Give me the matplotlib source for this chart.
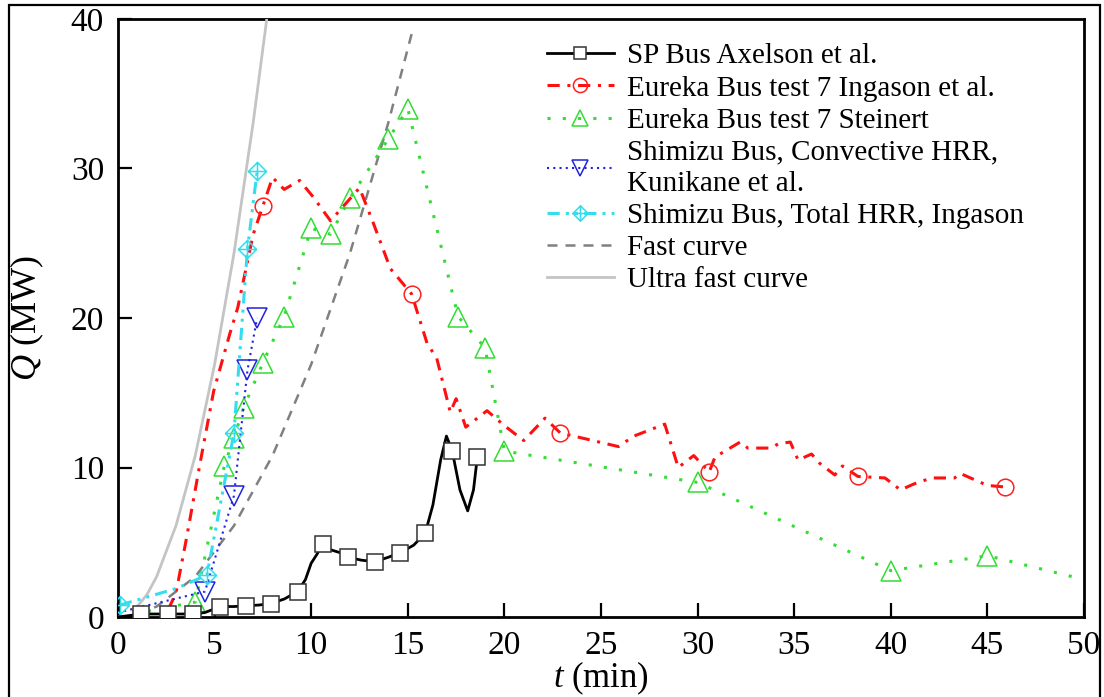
import numpy as np
import matplotlib
matplotlib.use('Agg')
import matplotlib.pyplot as plt
from matplotlib.path import Path
from matplotlib.patches import Rectangle

plt.rcParams['font.family'] = 'serif'
plt.rcParams['font.serif'] = ['Liberation Serif', 'DejaVu Serif']
plt.rcParams['mathtext.fontset'] = 'custom'
plt.rcParams['mathtext.rm'] = 'Liberation Serif'
plt.rcParams['mathtext.it'] = 'Liberation Serif:italic'

# SP Bus Axelson et al.
sp_t = [0.0, 1.2, 2.6, 3.9, 4.5, 5.3, 6.0, 6.6, 7.3, 7.9, 8.6, 9.3, 9.7, 10.0, 10.3, 10.6,
        11.0, 11.5, 11.9, 12.6, 13.3, 14.0, 14.6, 15.3, 15.9, 16.3, 16.7, 17.0, 17.3,
        17.7, 18.1, 18.4, 18.6]
sp_q = [0.0, 0.2, 0.2, 0.2, 0.3, 0.7, 0.7, 0.75, 0.8, 0.9, 1.2, 1.7, 2.5, 3.6, 4.2, 4.9,
        4.5, 4.3, 4.0, 3.8, 3.7, 4.0, 4.3, 4.8, 5.6, 7.5, 10.5, 12.1, 11.1,
        8.5, 7.1, 8.5, 10.7]
sp_marks = [1, 2, 3, 5, 7, 9, 11, 15, 18, 20, 22, 24, 28, 32]

# Eureka Bus test 7 Ingason et al.
ing_t = [2.6, 3.0, 3.55, 4.25, 4.95, 5.8, 6.2, 7.0, 7.5, 8.0, 8.6, 9.4, 10.1, 11.0, 12.5,
         13.2, 14.1, 15.2, 16.0, 16.5, 17.2, 17.5, 18.0, 19.1, 20.0, 21.0, 22.1, 22.9,
         23.6, 25.9, 26.7, 28.3, 29.0, 29.8, 30.6, 30.9, 32.2, 32.6, 33.8, 34.2, 34.8,
         35.2, 35.9, 36.3, 37.1, 37.5, 38.3, 39.7, 40.5, 41.2, 42.1, 43.3, 43.6, 45.0, 45.9]
ing_q = [0.5, 1.6, 5.3, 10.3, 15.1, 19.0, 20.7, 25.6, 27.5, 29.4, 28.6, 29.2, 28.1, 26.5, 28.7,
         26.4, 23.3, 21.6, 18.3, 17.3, 13.7, 14.6, 12.7, 13.8, 12.8, 11.8, 13.3, 12.3,
         12.1, 11.4, 12.1, 12.9, 10.0, 10.8, 9.7, 10.7, 11.7, 11.3, 11.3, 11.6, 11.7,
         10.5, 10.9, 10.3, 9.5, 10.1, 9.4, 9.3, 8.5, 8.9, 9.3, 9.3, 9.6, 8.8, 8.7]
ing_marks = [8, 17, 27, 34, 46, 54]

# Eureka Bus test 7 Steinert
st_t = [0.0, 4.0, 5.5, 6.0, 6.5, 7.5, 8.6, 10.0, 11.0, 12.0, 14.0, 15.0, 17.6, 19.0, 20.0,
        30.0, 40.0, 45.0, 49.7]
st_q = [0.0, 1.0, 10.1, 12.0, 14.0, 17.0, 20.1, 26.0, 25.6, 28.0, 32.0, 34.0, 20.1, 18.0, 11.1,
        9.0, 3.1, 4.1, 2.6]

# Shimizu Bus, Convective HRR, Kunikane et al.
kun_t = [0.0, 4.5, 6.0, 6.7, 7.2]
kun_q = [0.3, 1.7, 8.1, 16.5, 20.0]

# Shimizu Bus, Total HRR, Ingason
tot_t = [0.1, 3.0, 4.6, 6.0, 6.7, 7.2]
tot_q = [0.8, 1.9, 2.8, 12.3, 24.6, 29.8]

# Fast and ultra fast t-squared curves
fast_t = [1.0, 2.0, 4.0, 6.0, 8.0, 10.0, 12.0, 14.0, 15.3]
fast_q = [0.2, 0.7, 2.7, 6.1, 10.8, 16.9, 24.3, 33.1, 39.5]
ufast_t = [0.8, 1.5, 2.0, 3.0, 4.0, 5.0, 6.0, 7.0, 7.7]
ufast_q = [0.4, 1.5, 2.7, 6.1, 10.8, 16.9, 24.3, 33.1, 40.0]

xticks = [0, 5, 10, 15, 20, 25, 30, 35, 40, 45, 50]
yticks = [0, 10, 20, 30, 40]

# diamond with a cross inside
verts = [(0, 1), (1, 0), (0, -1), (-1, 0), (0, 1), (-1, 0), (1, 0), (0, -1), (0, 1)]
codes = [Path.MOVETO, Path.LINETO, Path.LINETO, Path.LINETO, Path.CLOSEPOLY,
         Path.MOVETO, Path.LINETO, Path.MOVETO, Path.LINETO]
diamond_cross = Path(verts, codes)

fig = plt.figure(figsize=(11.04, 6.97), dpi=100)
ax = fig.add_axes([118 / 1104, 1 - 617 / 697, (1084 - 118) / 1104, (617 - 19) / 697])

ax.plot(sp_t, sp_q, color='black', lw=2.0, marker='s', markevery=sp_marks, ms=11,
        mfc='white', mec='#333333', mew=1.1, label='SP Bus Axelson et al.', zorder=6)
ax.plot(ing_t, ing_q, color='#ff1010', lw=2.2, dashes=(4, 2.5, 1, 2.5), marker='o',
        markevery=ing_marks, ms=12, mfc='none', mec='#ff2020', mew=1.1,
        label='Eureka Bus test 7 Ingason et al.', zorder=4)
ax.plot(st_t, st_q, color='#33dd33', lw=2.2, dashes=(1, 4), marker='^',
        markevery=list(range(1, len(st_t) - 1)), ms=14, mfc='none', mec='#33dd33', mew=1.1,
        label='Eureka Bus test 7 Steinert', zorder=5)
ax.plot(kun_t, kun_q, color='#2222dd', lw=1.5, dashes=(1, 2), marker='v',
        markevery=[1, 2, 3, 4], ms=14, mfc='none', mec='#2222dd', mew=1.1,
        label='Shimizu Bus, Convective HRR,\nKunikane et al.', zorder=5)
ax.plot(tot_t, tot_q, color='#33ddee', lw=2.2, dashes=(4, 2, 1, 2, 1, 2), marker=diamond_cross,
        markevery=[0, 2, 3, 4, 5], ms=13, mfc='none', mec='#33ddee', mew=1.1,
        label='Shimizu Bus, Total HRR, Ingason', zorder=5)
ax.plot(fast_t, fast_q, color='#808080', lw=1.8, dashes=(4, 3.2), label='Fast curve', zorder=3)
ax.plot(ufast_t, ufast_q, color='#c4c4c4', lw=2.0, label='Ultra fast curve', zorder=3)

ax.set_xlim(0, 50)
ax.set_ylim(0, 40)
ax.set_xticks(xticks)
ax.set_yticks(yticks)
ax.tick_params(direction='in', length=10, width=1.6, labelsize=24, pad=10,
               top=False, right=False)
for s in ax.spines.values():
    s.set_linewidth(2.0)

ax.set_xlabel('$t$ (min)', fontsize=25)
ax.xaxis.set_label_coords(0.5, -0.072)
ax.set_ylabel('$Q$ (MW)', fontsize=26)
ax.yaxis.set_label_coords(-0.075, 0.5)

leg = ax.legend(loc='upper left', bbox_to_anchor=(0.444, 0.96), frameon=False,
                fontsize=21, handlelength=2.3, handletextpad=0.45, labelspacing=0.2,
                borderpad=0, borderaxespad=0, markerscale=0.85)
for t in leg.get_texts():
    t.set_linespacing(1.25)

# outer frame of the screenshot
fig.add_artist(Rectangle((9 / 1104, -0.05), (1100 - 9) / 1104, 1.05 - 5 / 697,
                         transform=fig.transFigure, fill=False, lw=1.6, ec='black',
                         clip_on=False))

fig.savefig('out.png', dpi=100)
